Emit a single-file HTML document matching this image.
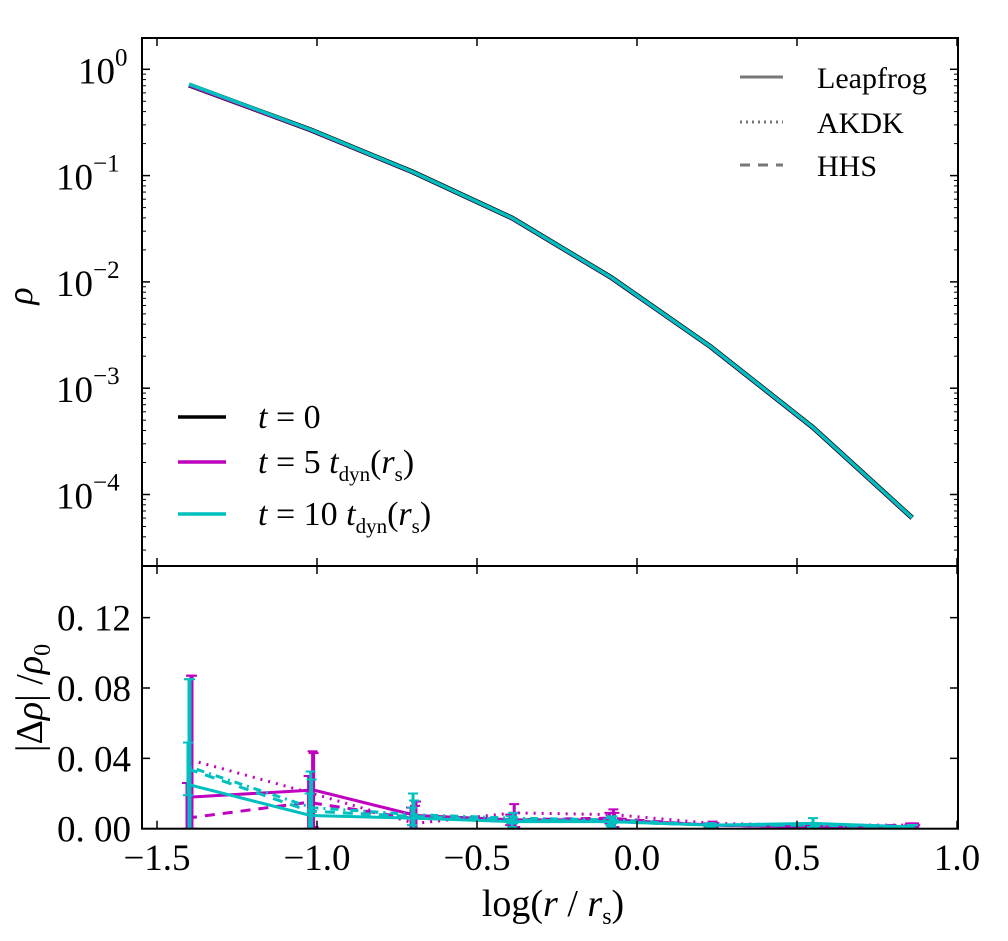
<!DOCTYPE html>
<html><head><meta charset="utf-8"><style>
html,body{margin:0;padding:0;background:#fff;}
svg{display:block;font-family:"Liberation Serif",serif;}
</style></head><body>
<svg id="chart" width="1008" height="941" viewBox="0 0 1008 941" xmlns="http://www.w3.org/2000/svg"></svg>
<script>
const radii = [-1.40, -1.02, -0.70, -0.39, -0.08, 0.23, 0.55, 0.86];
const logRho0 = [-0.148, -0.57, -0.967, -1.40, -1.96, -2.61, -3.37, -4.22];
const logRho5 = [-0.150, -0.572, -0.968, -1.401, -1.961, -2.611, -3.371, -4.221];
const logRho10 = [-0.140, -0.568, -0.966, -1.399, -1.959, -2.609, -3.369, -4.219];
const xTicks = [-1.5, -1.0, -0.5, 0.0, 0.5, 1.0];
const xTickLabels = ["\u22121.5", "\u22121.0", "\u22120.5", "0.0", "0.5", "1.0"];
const yTopTicks = [0, -1, -2, -3, -4];
const yBotTicks = [0.00, 0.04, 0.08, 0.12];
const yBotLabels = ["0. 00", "0. 04", "0. 08", "0. 12"];
const m5Leap = [0.018, 0.022, 0.0075, 0.005, 0.005, 0.002, 0.001, 0.001];
const m5Leap_err = [0.069, 0.021, 0.008, 0.004, 0.004, 0.001, 0.001, 0.001];
const m5Akdk = [0.039, 0.020, 0.003, 0.009, 0.008, 0.003, 0.002, 0.002];
const m5Akdk_err = [0.048, 0.024, 0.010, 0.005, 0.003, 0.001, 0.001, 0.001];
const m5Hhs = [0.006, 0.015, 0.006, 0.005, 0.006, 0.002, 0.001, 0.002];
const m5Hhs_err = [0.020, 0.015, 0.006, 0.003, 0.003, 0.001, 0.001, 0.001];
const c10Leap = [0.025, 0.0075, 0.006, 0.004, 0.004, 0.002, 0.003, 0.001];
const c10Leap_err = [0.060, 0.025, 0.014, 0.003, 0.003, 0.001, 0.003, 0.001];
const c10Akdk = [0.035, 0.012, 0.008, 0.006, 0.005, 0.002, 0.002, 0.001];
const c10Akdk_err = [0.050, 0.016, 0.008, 0.003, 0.002, 0.001, 0.001, 0.001];
const c10Hhs = [0.034, 0.010, 0.007, 0.005, 0.004, 0.002, 0.002, 0.001];
const c10Hhs_err = [0.015, 0.010, 0.005, 0.002, 0.002, 0.001, 0.001, 0.001];

const NS = "http://www.w3.org/2000/svg";
const svg = document.getElementById("chart");
const L = 142, R = 958, T1 = 38, B1 = 566, B2 = 828.7;
const xs = v => 157 + (v + 1.5) * 320;
const yTop = lg => 69.3 - lg * 106.3;
const yBot = v => 828.7 - v * (70.35 / 0.04);
function el(tag, attrs, parent) {
  const e = document.createElementNS(NS, tag);
  for (const k in attrs) e.setAttribute(k, attrs[k]);
  (parent || svg).appendChild(e);
  return e;
}
function txt(x, y, s, size, anchor, parent) {
  const t = el("text", {x: x, y: y, "font-size": size, "text-anchor": anchor || "middle"}, parent);
  t.textContent = s;
  return t;
}
const defs = el("defs", {});
const cp1 = el("clipPath", {id: "c1"}, defs); el("rect", {x: L, y: T1, width: R - L, height: B1 - T1}, cp1);
const cp2 = el("clipPath", {id: "c2"}, defs); el("rect", {x: L, y: B1, width: R - L, height: B2 - B1}, cp2);

const gTop = el("g", {"clip-path": "url(#c1)"});


[[logRho0, "#000", 5, "line-t0"], [logRho5, "#bf00bf", 3.5, "line-t5"], [logRho10, "#00bfbf", 3.5, "line-t10"]].forEach(s => {
  const p = el("polyline", {points: radii.map((r, i) => xs(r) + "," + yTop(s[0][i])).join(" "), fill: "none", stroke: s[1], "stroke-width": s[2]}, gTop);
  
  
});

const gBot = el("g", {"clip-path": "url(#c2)"});


const series = [
  [m5Hhs, m5Hhs_err, "#bf00bf", "10,8", "resid-t5-hhs", -2],
  [m5Akdk, m5Akdk_err, "#bf00bf", "2,6", "resid-t5-akdk", 2],
  [m5Leap, m5Leap_err, "#bf00bf", "", "resid-t5-leapfrog", 3],
  [c10Hhs, c10Hhs_err, "#00bfbf", "10,8", "resid-t10-hhs", -1],
  [c10Akdk, c10Akdk_err, "#00bfbf", "2,5,8,5", "resid-t10-akdk", 1],
  [c10Leap, c10Leap_err, "#00bfbf", "", "resid-t10-leapfrog", 0]
];
series.forEach(s => {
  const g = el("g", {}, gBot);
  
  
  const attrs = {points: radii.map((r, i) => (xs(r) + s[5]) + "," + yBot(s[0][i])).join(" "), fill: "none", stroke: s[2], "stroke-width": 3};
  if (s[3]) attrs["stroke-dasharray"] = s[3];
  el("polyline", attrs, g);
  radii.forEach((r, i) => {
    const x = xs(r) + s[5];
    const y1 = yBot(s[0][i] + s[1][i]), y0 = yBot(Math.max(0, s[0][i] - s[1][i]));
    el("line", {x1: x, x2: x, y1: y1, y2: y0, stroke: s[2], "stroke-width": 3}, g);
    el("line", {x1: x - 5, x2: x + 5, y1: y1, y2: y1, stroke: s[2], "stroke-width": 2}, g);
    el("line", {x1: x - 5, x2: x + 5, y1: y0, y2: y0, stroke: s[2], "stroke-width": 2}, g);
  });
});

el("rect", {x: L, y: T1, width: R - L, height: B1 - T1, fill: "none", stroke: "#000", "stroke-width": 2});
el("rect", {x: L, y: B1, width: R - L, height: B2 - B1, fill: "none", stroke: "#000", "stroke-width": 2});

xTicks.forEach((v, i) => {
  const x = xs(v);
  if (x < L || x > R) return;
  [[T1, 1], [B1, -1], [B1, 1], [B2, -1]].forEach(p => el("line", {x1: x, x2: x, y1: p[0], y2: p[0] + 8 * p[1], stroke: "#000", "stroke-width": 1.5}));
});
xTickLabels.forEach((s, i) => {
  const t = txt(xs(xTicks[i]), 870, s, 37);
  
  
});
yTopTicks.forEach(d => {
  const y = yTop(d);
  [[L, 1], [R, -1]].forEach(p => el("line", {x1: p[0], x2: p[0] + 8 * p[1], y1: y, y2: y, stroke: "#000", "stroke-width": 1.5}));
  const t = el("text", {x: d === 0 ? 78 : 56, y: y + 14, "font-size": 37, "text-anchor": "start"});
  
  
  t.textContent = "10";
  const sup = el("tspan", {dy: -18, "font-size": 25}, t);
  sup.textContent = d === 0 ? "0" : "\u2212" + (-d);
});
for (let d = 0; d >= -5; d--) {
  for (let m = 2; m <= 9; m++) {
    const yy = yTop(d - 1 + Math.log10(m));
    if (yy < T1 || yy > B1) continue;
    [[L, 1], [R, -1]].forEach(p => el("line", {x1: p[0], x2: p[0] + 4 * p[1], y1: yy, y2: yy, stroke: "#000", "stroke-width": 1}));
  }
}
yBotTicks.forEach((v, i) => {
  const y = yBot(v);
  [[L, 1], [R, -1]].forEach(p => el("line", {x1: p[0], x2: p[0] + 8 * p[1], y1: y, y2: y, stroke: "#000", "stroke-width": 1.5}));
  const t = txt(131, y + 13, yBotLabels[i], 37, "end");
  
  
});

const yl1 = el("text", {x: 0, y: 0, "font-size": 36, "font-style": "italic", transform: "translate(32,296) rotate(-90)", "text-anchor": "middle"});

yl1.textContent = "\u03c1";
const yl2 = el("text", {x: 0, y: 0, "font-size": 38, transform: "translate(42,698) rotate(-90)", "text-anchor": "middle"});

yl2.innerHTML = '|\u0394<tspan font-style="italic">\u03c1</tspan>| /<tspan font-style="italic">\u03c1</tspan><tspan font-size="24" dy="8">0</tspan>';
const xl = el("text", {x: 553, y: 916, "font-size": 38, "text-anchor": "middle"});

xl.innerHTML = 'log(<tspan font-style="italic">r</tspan> / <tspan font-style="italic">r</tspan><tspan font-size="24" dy="8">s</tspan><tspan dy="-8">)</tspan>';

const legM = el("g", {});


[["Leapfrog", "", 77], ["AKDK", "2,4", 122], ["HHS", "10,8", 165]].forEach(e => {
  const a = {x1: 740, x2: 783, y1: e[2], y2: e[2], stroke: "#777", "stroke-width": 3};
  if (e[1]) a["stroke-dasharray"] = e[1];
  el("line", a, legM);
  txt(817, e[2] + 11, e[0], 30, "start", legM);
});
const legT = el("g", {});


[["#000", 417, '<tspan font-style="italic">t</tspan> = 0'],
 ["#bf00bf", 462, '<tspan font-style="italic">t</tspan> = 5 <tspan font-style="italic">t</tspan><tspan font-size="21" dy="8">dyn</tspan><tspan dy="-8">(</tspan><tspan font-style="italic">r</tspan><tspan font-size="21" dy="8">s</tspan><tspan dy="-8">)</tspan>'],
 ["#00bfbf", 514, '<tspan font-style="italic">t</tspan> = 10 <tspan font-style="italic">t</tspan><tspan font-size="21" dy="8">dyn</tspan><tspan dy="-8">(</tspan><tspan font-style="italic">r</tspan><tspan font-size="21" dy="8">s</tspan><tspan dy="-8">)</tspan>']].forEach(e => {
  el("line", {x1: 178, x2: 226, y1: e[1], y2: e[1], stroke: e[0], "stroke-width": 3.5}, legT);
  const t = el("text", {x: 258, y: e[1] + 11, "font-size": 34}, legT);
  t.innerHTML = e[2];
});
</script>
</body></html>
